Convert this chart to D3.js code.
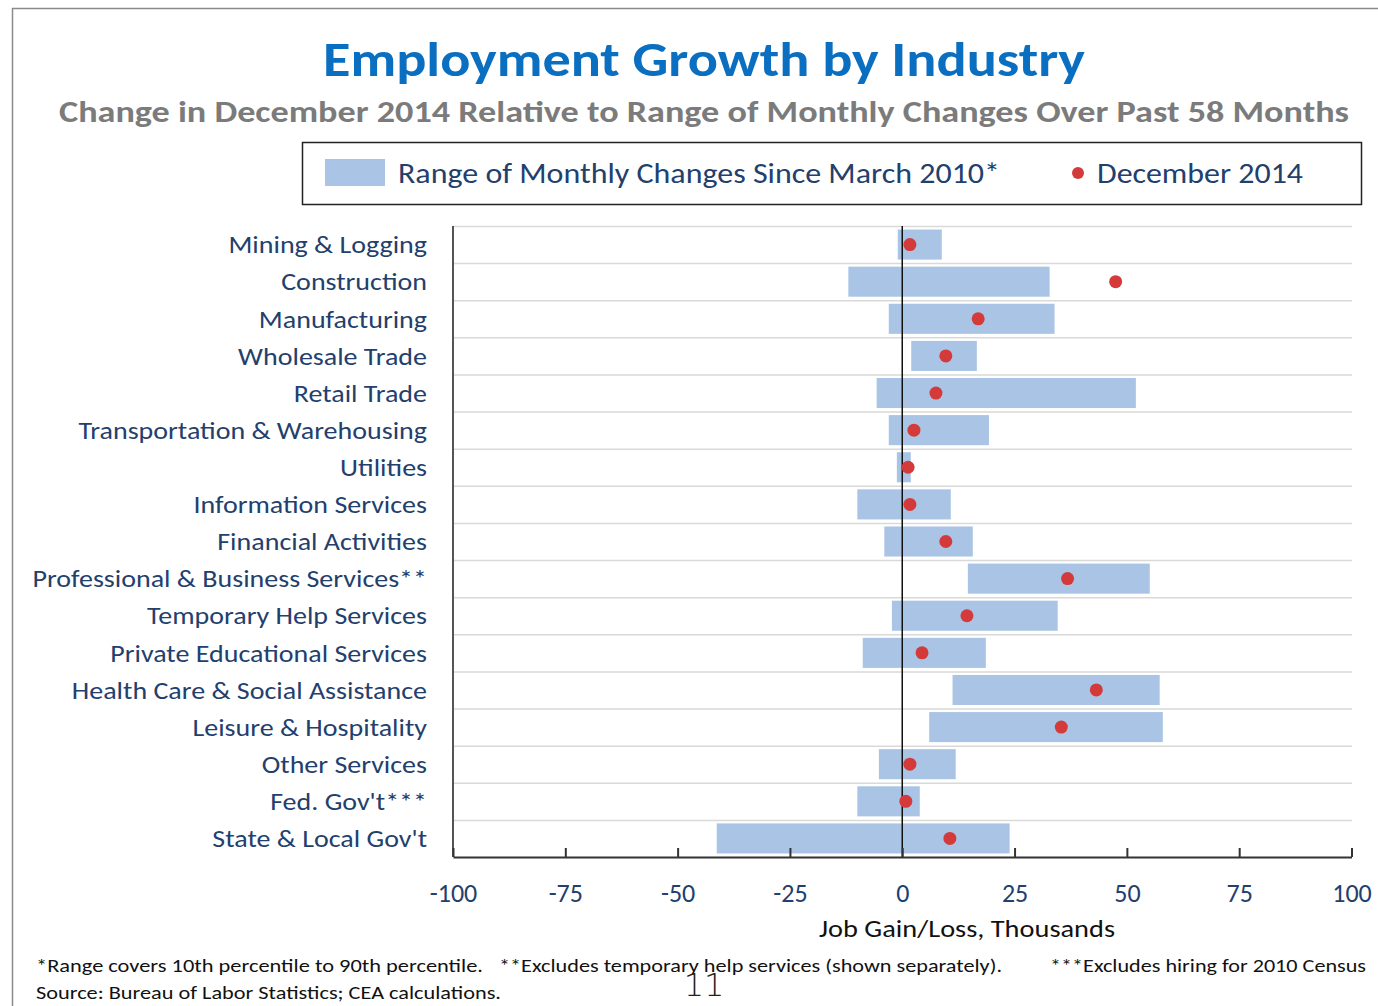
<!DOCTYPE html>
<html>
<head>
<meta charset="utf-8">
<script src="https://cdn.jsdelivr.net/npm/d3@7"></script>
<style>
  body { margin: 0; background: #fff; }
  svg { display: block; font-family: Carlito, Calibri, Lato, sans-serif; }
</style>
</head>
<body>
<script>
// categories, top to bottom
var industries = [
  "Mining & Logging", "Construction", "Manufacturing", "Wholesale Trade",
  "Retail Trade", "Transportation & Warehousing", "Utilities",
  "Information Services", "Financial Activities",
  "Professional & Business Services**", "Temporary Help Services",
  "Private Educational Services", "Health Care & Social Assistance",
  "Leisure & Hospitality", "Other Services", "Fed. Gov't***",
  "State & Local Gov't"
];
// 10th percentile of monthly changes since March 2010 (thousands)
var rangeLow = [-1, -12, -3, 2, -5.7, -3, -1.2, -10, -4, 14.6, -2.3, -8.8, 11.2, 6, -5.2, -10, -41.3];
// 90th percentile
var rangeHigh = [8.8, 32.8, 33.9, 16.6, 52, 19.3, 1.9, 10.8, 15.7, 55.1, 34.6, 18.6, 57.3, 58, 11.9, 3.9, 23.9];
// December 2014 change
var dec2014 = [1.7, 47.5, 16.9, 9.7, 7.5, 2.6, 1.3, 1.7, 9.7, 36.8, 14.4, 4.4, 43.2, 35.4, 1.7, 0.8, 10.6];
var xTicks = [-100, -75, -50, -25, 0, 25, 50, 75, 100];

var W = 1378, H = 1006;
var margin = {top: 226, right: 26, bottom: 149, left: 453};

var svg = d3.select("body").append("svg")
    .attr("width", W)
    .attr("height", H);

// slide frame
svg.append("path")
    .attr("d", "M12.5," + H + "V8.5H" + W)
    .attr("fill", "none")
    .attr("stroke", "#8a8a8a")
    .attr("stroke-width", 1.5);

svg.append("text")
    .attr("x", 704).attr("y", 76)
    .attr("text-anchor", "middle")
    .attr("font-size", 48).attr("font-weight", "bold")
    .attr("fill", "#0a6fc0")
    .attr("textLength", 762).attr("lengthAdjust", "spacingAndGlyphs")
    .text("Employment Growth by Industry");

svg.append("text")
    .attr("x", 704).attr("y", 122)
    .attr("text-anchor", "middle")
    .attr("font-size", 30).attr("font-weight", "bold")
    .attr("fill", "#7b7b7b")
    .attr("textLength", 1290).attr("lengthAdjust", "spacingAndGlyphs")
    .text("Change in December 2014 Relative to Range of Monthly Changes Over Past 58 Months");

// legend
var legend = svg.append("g");
legend.append("rect")
    .attr("x", 302.5).attr("y", 142.5)
    .attr("width", 1059).attr("height", 62)
    .attr("fill", "#fff").attr("stroke", "#222").attr("stroke-width", 1.5);
legend.append("rect")
    .attr("x", 325).attr("y", 159)
    .attr("width", 60).attr("height", 27)
    .attr("fill", "#a9c4e4");
legend.append("text")
    .attr("x", 398).attr("y", 183)
    .attr("font-size", 28).attr("fill", "#23406d")
    .attr("textLength", 602).attr("lengthAdjust", "spacingAndGlyphs")
    .text("Range of Monthly Changes Since March 2010*");
legend.append("circle")
    .attr("cx", 1078).attr("cy", 173).attr("r", 6)
    .attr("fill", "#d43a3a");
legend.append("text")
    .attr("x", 1097).attr("y", 183)
    .attr("font-size", 28).attr("fill", "#23406d")
    .attr("textLength", 206).attr("lengthAdjust", "spacingAndGlyphs")
    .text("December 2014");

var width = W - margin.left - margin.right,
    height = H - margin.top - margin.bottom;

var x = d3.scaleLinear().domain([-100, 100]).range([0, width - 0.5]);
var y = d3.scaleBand().domain(industries).range([0, height]).paddingInner(0.19).paddingOuter(0.095);

var g = svg.append("g")
    .attr("transform", "translate(" + margin.left + "," + margin.top + ")");

// row separators
var step = height / industries.length;
g.append("g")
  .selectAll("line")
    .data(d3.range(industries.length))
  .enter().append("line")
    .attr("x1", 0).attr("x2", width)
    .attr("y1", function(d) { return d * step + 0.5; })
    .attr("y2", function(d) { return d * step + 0.5; })
    .attr("stroke", "#d9d9d9").attr("stroke-width", 1.5);

var rows = industries.map(function(name, i) {
  return {name: name, lo: rangeLow[i], hi: rangeHigh[i], dec: dec2014[i]};
});

g.append("g")
  .selectAll("rect")
    .data(rows)
  .enter().append("rect")
    .attr("x", function(d) { return x(d.lo); })
    .attr("y", function(d) { return y(d.name); })
    .attr("width", function(d) { return x(d.hi) - x(d.lo); })
    .attr("height", y.bandwidth())
    .attr("fill", "#a9c4e4");

// zero line
g.append("line")
    .attr("x1", x(0)).attr("x2", x(0))
    .attr("y1", 0).attr("y2", height)
    .attr("stroke", "#111").attr("stroke-width", 1.5);

g.append("g")
  .selectAll("circle")
    .data(rows)
  .enter().append("circle")
    .attr("cx", function(d) { return x(d.dec); })
    .attr("cy", function(d) { return y(d.name) + y.bandwidth() / 2; })
    .attr("r", 6.5)
    .attr("fill", "#d43a3a");

// left axis line
g.append("line")
    .attr("x1", 0).attr("x2", 0)
    .attr("y1", 0).attr("y2", height)
    .attr("stroke", "#555").attr("stroke-width", 2);

// category labels (stretched a bit, the original face is wider than Lato)
g.append("g")
  .selectAll("text")
    .data(rows)
  .enter().append("text")
    .attr("x", -26)
    .attr("y", function(d) { return y(d.name) + y.bandwidth() / 2; })
    .attr("dy", "0.35em")
    .attr("text-anchor", "end")
    .attr("font-size", 25)
    .attr("fill", "#23406d")
    .text(function(d) { return d.name; })
    .each(function() {
      var len = this.getComputedTextLength();
      d3.select(this).attr("textLength", len * 1.12).attr("lengthAdjust", "spacingAndGlyphs");
    });

// bottom axis, ticks pointing up
var xAxis = g.append("g")
    .attr("transform", "translate(0," + height + ")")
    .call(d3.axisBottom(x).tickValues(xTicks).tickFormat(function(d) { return String(d); })
      .tickSize(-9).tickPadding(24).tickSizeOuter(0));
xAxis.select(".domain").attr("stroke", "#333").attr("stroke-width", 2);
xAxis.selectAll(".tick line").attr("stroke", "#333").attr("stroke-width", 2);
xAxis.selectAll(".tick text")
    .attr("font-size", 26)
    .attr("font-family", "Carlito, Calibri, Lato, sans-serif")
    .attr("fill", "#23406d")
    .attr("y", 45).attr("dy", 0);

svg.append("text")
    .attr("x", 967).attr("y", 937)
    .attr("text-anchor", "middle")
    .attr("font-size", 25).attr("fill", "#111")
    .attr("textLength", 296).attr("lengthAdjust", "spacingAndGlyphs")
    .text("Job Gain/Loss, Thousands");

// footnotes
var notes = svg.append("g").attr("font-size", 18).attr("fill", "#111");
notes.append("text").attr("x", 36).attr("y", 972)
    .attr("textLength", 447).attr("lengthAdjust", "spacingAndGlyphs")
    .text("*Range covers 10th percentile to 90th percentile.");
notes.append("text").attr("x", 499).attr("y", 972)
    .attr("textLength", 503).attr("lengthAdjust", "spacingAndGlyphs")
    .text("**Excludes temporary help services (shown separately).");
notes.append("text").attr("x", 1050).attr("y", 972)
    .attr("textLength", 316).attr("lengthAdjust", "spacingAndGlyphs")
    .text("***Excludes hiring for 2010 Census");
notes.append("text").attr("x", 36).attr("y", 999)
    .attr("textLength", 465).attr("lengthAdjust", "spacingAndGlyphs")
    .text("Source: Bureau of Labor Statistics; CEA calculations.");

svg.append("text")
    .attr("x", 704).attr("y", 996)
    .attr("text-anchor", "middle")
    .attr("font-size", 32).attr("font-weight", 300)
    .attr("font-family", "DejaVu Sans, sans-serif")
    .attr("fill", "#222")
    .text("11");
</script>
</body>
</html>
